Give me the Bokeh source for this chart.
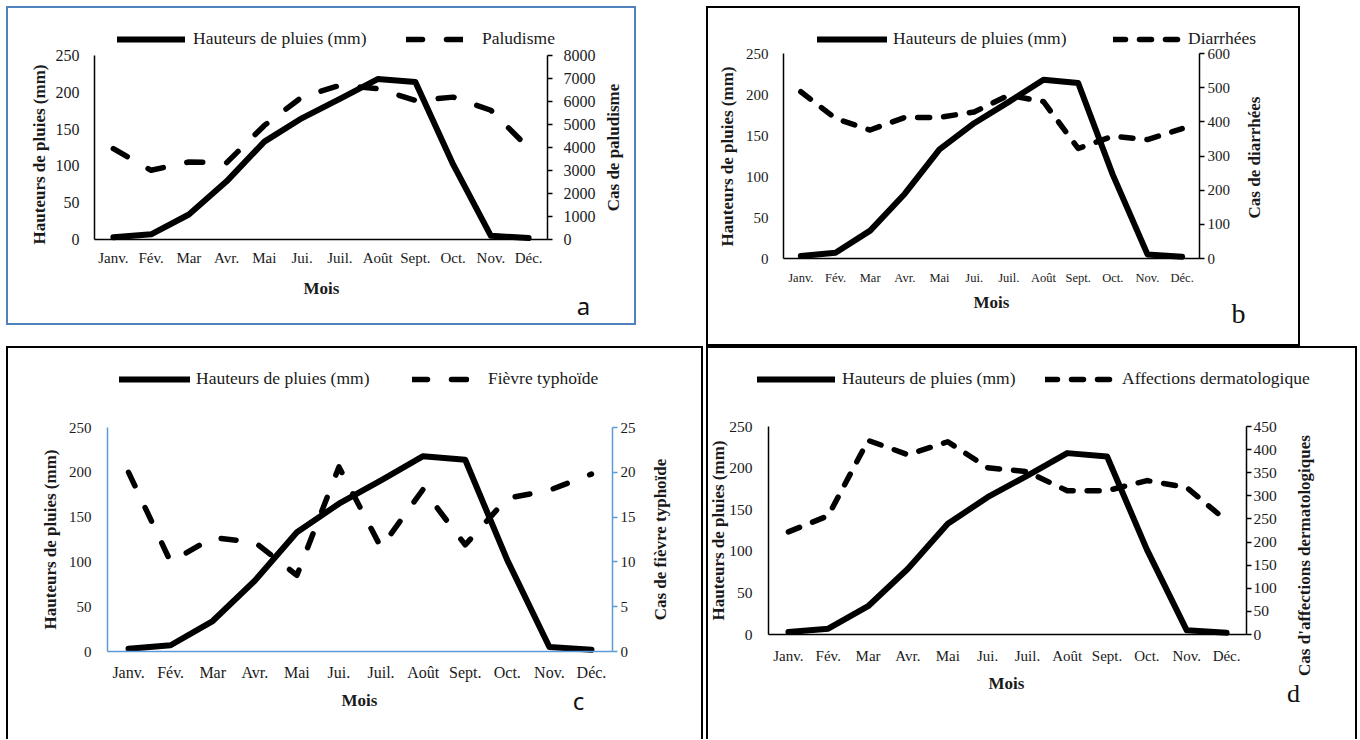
import math
from bokeh.plotting import figure
from bokeh.models import Range1d, LinearAxis, FixedTicker, Legend, LegendItem, Label, Spacer
from bokeh.layouts import column, row
from bokeh.embed import file_html
from bokeh.resources import INLINE

# ---------------- data ----------------
months = ["Janv.", "Fév.", "Mar", "Avr.", "Mai", "Jui.", "Juil.", "Août", "Sept.", "Oct.", "Nov.", "Déc."]
rain_mm = [3, 7, 34, 79, 133, 165, 191, 218, 214, 102, 5, 2]
paludisme = [3950, 3010, 3370, 3340, 4960, 6200, 6700, 6560, 6050, 6190, 5620, 3980]
diarrhees = [488, 410, 376, 413, 413, 429, 478, 459, 322, 358, 348, 380]
typhoide = [20, 10, 12.7, 12.2, 8.5, 20.6, 11.6, 18.1, 11.9, 17.1, 18, 19.8]
dermato = [222, 257, 420, 389, 417, 361, 352, 311, 311, 333, 318, 246]

left_ticks = [0, 50, 100, 150, 200, 250]
palu_ticks = [0, 1000, 2000, 3000, 4000, 5000, 6000, 7000, 8000]
diar_ticks = [0, 100, 200, 300, 400, 500, 600]
typh_ticks = [0, 5, 10, 15, 20, 25]
derm_ticks = [0, 50, 100, 150, 200, 250, 300, 350, 400, 450]

rain_label = "Hauteurs de pluies (mm)"
left_title = "Hauteurs de pluies (mm)"
x_title = "Mois"

SERIF = "Liberation Serif"
SANS = "Noto Sans"
TXT = "#1a1a1a"

N = len(months)
pos = [i + 0.5 for i in range(N)]  # category centres on the x scale


def style_axis(ax, color, size, tick_out, lab_standoff):
    ax.axis_line_color = color
    ax.axis_line_width = 1.5
    ax.major_tick_line_color = color if tick_out else None
    ax.major_tick_line_width = 1.5
    ax.major_tick_out = tick_out
    ax.major_tick_in = 0
    ax.minor_tick_line_color = None
    ax.major_label_text_font = SERIF
    ax.major_label_text_font_size = size
    ax.major_label_text_color = TXT
    ax.major_label_standoff = lab_standoff


def build(W, H, L, R, T, B, vals, name, rmax, rticks, rtitle, leg1, leg2, dash, axis_color, border,
          ysize, xsize, so, titles, letter, letter_font, letter_size):
    k = (R - L) / N
    s = (B - T) / 250.0
    xs, xe = -L / k, N + (W - R) / k
    ybot, ytop = -(H - B) / s, 250 + T / s
    f = rmax / 250.0
    p = figure(x_range=Range1d(xs, xe), y_range=Range1d(ybot, ytop),
               width=W, height=H, output_backend="svg", toolbar_location=None,
               min_border=0, min_border_left=0, min_border_right=0, min_border_top=0, min_border_bottom=0,
               styles={"box-shadow": border})
    p.border_fill_color = None
    p.background_fill_color = None
    p.outline_line_color = None
    p.xgrid.visible = False
    p.ygrid.visible = False
    p.extra_y_ranges = {"r": Range1d(ybot * f, ytop * f)}

    ly = p.yaxis[0]
    ly.ticker = FixedTicker(ticks=left_ticks)
    ly.fixed_location = 0
    ly.bounds = (0, 250)
    style_axis(ly, axis_color, ysize, 0, so[0])

    ry = LinearAxis(y_range_name="r", ticker=FixedTicker(ticks=rticks))
    ry.fixed_location = N
    ry.bounds = (0, rmax)
    style_axis(ry, axis_color, ysize, 5, so[1])
    p.add_layout(ry, "right")

    bx = p.xaxis[0]
    bx.ticker = FixedTicker(ticks=pos)
    bx.major_label_overrides = {q: m for q, m in zip(pos, months)}
    bx.fixed_location = 0
    bx.bounds = (0, N)
    style_axis(bx, axis_color, xsize, 0, so[2])

    r1 = p.line(pos, rain_mm, line_width=6, line_color="black", line_join="round", line_cap="round")
    r2 = p.line(pos, vals, y_range_name="r", line_width=5.5, line_color="black",
                line_dash=dash, line_cap="round", line_join="round")

    leg_y = H - 43
    common = dict(orientation="horizontal", glyph_height=20, label_height=20, padding=0, margin=0,
                  border_line_color=None, background_fill_alpha=0, label_text_font=SERIF,
                  label_text_font_size="17.5px", label_text_color=TXT)
    l1 = Legend(items=[LegendItem(label=rain_label, renderers=[r1])], location=(leg1[0], leg_y),
                glyph_width=leg1[1], label_standoff=leg1[2], **common)
    l2 = Legend(items=[LegendItem(label=name, renderers=[r2])], location=(leg2[0], leg_y),
                glyph_width=leg2[1], label_standoff=leg2[2], **common)
    p.add_layout(l1)
    p.add_layout(l2)

    (lx, lyy), (rx, ryy), (mx, my) = titles
    for (tx, ty, txt, ang) in [(lx, lyy, left_title, math.pi / 2), (rx, ryy, rtitle, math.pi / 2),
                               (mx, my, x_title, 0)]:
        p.add_layout(Label(x=tx, y=H - ty, x_units="screen", y_units="screen", text=txt, angle=ang,
                           text_align="center", text_baseline="middle", text_font=SERIF,
                           text_font_style="bold", text_font_size="17px", text_color=TXT))

    p.add_layout(Label(x=letter[0], y=H - letter[1], x_units="screen", y_units="screen", text=letter[2],
                       text_align="center", text_baseline="middle", text_font=letter_font,
                       text_font_size=letter_size, text_color="#111111"))
    return p


BLUE_BORDER = "#4f81bd"
BLUE_AXIS = "#5b9bd5"
THREE_SIDES = "inset 2px 2px 0 0 #000000, inset -2px 0 0 0 #000000"

H1, H2 = 340, 393

pa = build(630, 319, 88, 541, 49, 233, paludisme, "Paludisme", 8000, palu_ticks, "Cas de paludisme",
           (111, 68, 8), (400, 57, 19), "16 24", "black",
           "inset 0 0 0 2px " + BLUE_BORDER, "16px", "15px", (15, 11, 10),
           ((33, 148), (607, 141), (315, 282)), (577, 299, "a"), SANS, "24px")

pb = build(594, H1, 77, 493, 47, 252, diarrhees, "Diarrhées", 600, diar_ticks, "Cas de diarrhées",
           (111, 70, 6), (407, 72, 3), "12 14", "black",
           "inset 0 0 0 2px #000000", "15px", "12.5px", (15, 3, 12),
           ((21, 150), (548, 151), (285, 296)), (532, 307, "b"), SERIF, "28px")

pc = build(697, H2, 101, 606, 81, 305, typhoide, "Fièvre typhoïde", 25, typh_ticks, "Cas de fièvre typhoïde",
           (113, 71, 6), (406, 57, 19), "15 24", BLUE_AXIS,
           THREE_SIDES, "15px", "16px", (16, 3, 12),
           ((44, 193), (654, 193), (353, 354)), (572, 354, "c"), SANS, "24px")

pd = build(651, H2, 62, 540, 80, 288, dermato, "Affections dermatologique", 450, derm_ticks,
           "Cas d'affections dermatologiques",
           (51, 78, 7), (339, 75, 2), "12 14", "black",
           THREE_SIDES, "15.5px", "15px", (16, 2, 13),
           ((12, 184), (598, 209), (300, 337)), (587, 347, "d"), SERIF, "26px")

layout = column(
    Spacer(width=10, height=6),
    row(Spacer(width=6, height=10), pa, Spacer(width=70, height=10), pb),
    row(Spacer(width=6, height=10), pc, Spacer(width=3, height=10), pd),
)

open("out.html", "w").write(file_html(layout, INLINE))
